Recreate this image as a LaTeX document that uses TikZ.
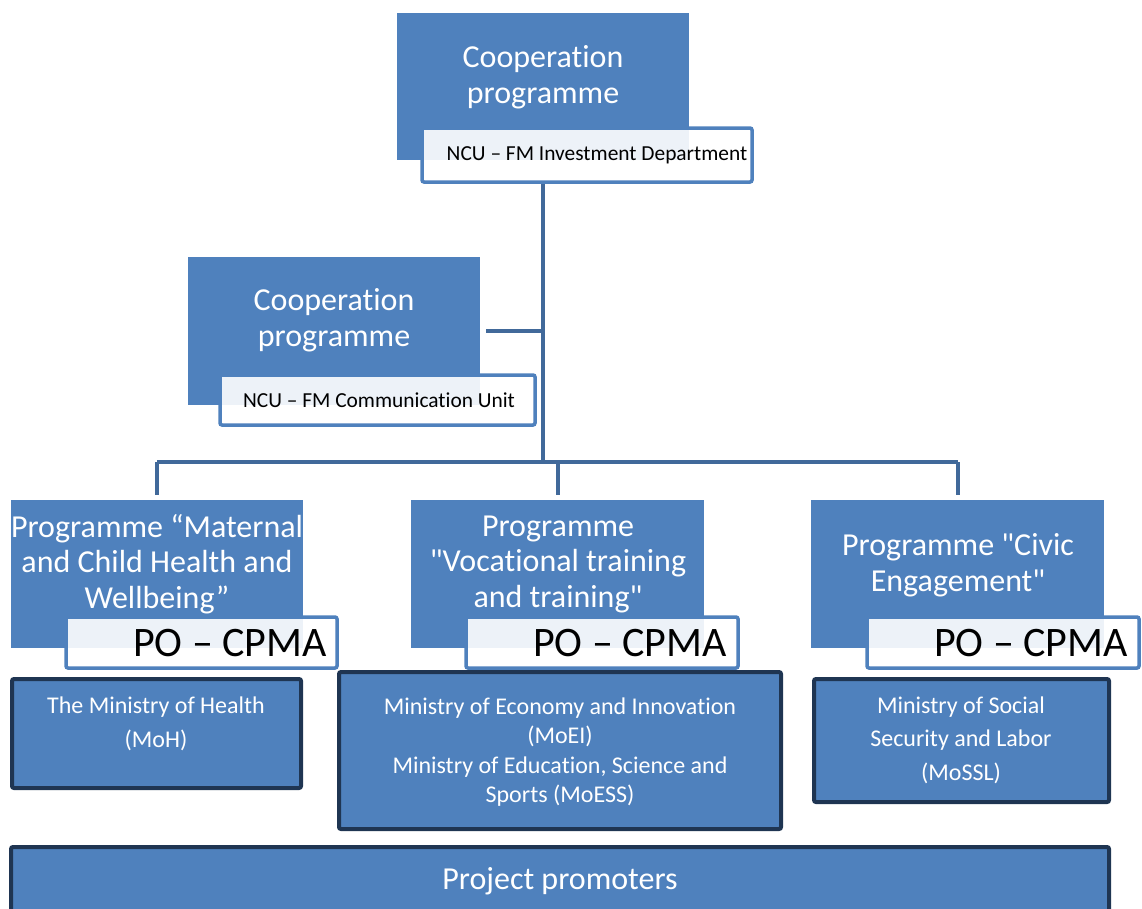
\documentclass[tikz,border=0pt]{standalone}
\usepackage{fontspec}
\setmainfont{Carlito}[Ligatures={TeXOff,NoCommon}]
\usetikzlibrary{fit}
\definecolor{boxblue}{HTML}{4F81BD}
\definecolor{connblue}{HTML}{41699A}
\definecolor{darkframe}{HTML}{1F3552}
\newcommand{\dq}{\symbol{34}}
\tikzset{
  bluebox/.style={fill=boxblue, draw=none, inner sep=0pt},
  labelbox/.style={fill=white, fill opacity=0.9, draw=boxblue, draw opacity=1, line width=3.5pt, rounded corners=2pt, inner sep=0pt},
  minbox/.style={fill=boxblue, draw=darkframe, line width=4pt, rounded corners=2pt, inner sep=0pt},
  conn/.style={draw=connblue, line width=4pt},
  bigtext/.style={text=white, align=center, inner sep=0pt, font=\fontsize{32}{36}\selectfont},
  progtext/.style={text=white, align=center, inner sep=0pt, font=\fontsize{32}{35.5}\selectfont},
  ncutext/.style={text=black, inner sep=0pt, font=\fontsize{21.4}{25}\selectfont},
  potext/.style={text=black, inner sep=0pt, anchor=east, font=\fontsize{42}{46}\selectfont},
  mintext/.style={text=white, align=center, inner sep=0pt},
}
\begin{document}
\begin{tikzpicture}[x=1pt,y=-1pt]
\useasboundingbox (0,0) rectangle (1142,908);
\clip (0,0) rectangle (1142,908);

% connector coordinates
\coordinate (bus) at (543,462);

% blue boxes
\node[bluebox, fit={(397,13) (689,160)}] (top) {};
\node[bluebox, fit={(188,257) (480,405)}] (box2) {};
\node[bluebox, fit={(11,500) (303,648)}] (progL) {};
\node[bluebox, fit={(411,500) (704,648)}] (progM) {};
\node[bluebox, fit={(811,500) (1104,648)}] (progR) {};

% connectors
\draw[conn] (top.south |- 0,182) -- (bus);
\draw[conn] ([xshift=6pt]box2.east) -- (box2.east -| bus);
\draw[conn] (progL.north |- bus) -- (progR.north |- bus);
\draw[conn] (progL.north |- bus) -- ([yshift=5pt]progL.north);
\draw[conn] (progM.north |- bus) -- ([yshift=5pt]progM.north);
\draw[conn] (progR.north |- bus) -- ([yshift=5pt]progR.north);

% texts in blue boxes
\node[bigtext] (topT) at (543,77) {Cooperation\\programme};
\node[bigtext] (box2T) at (334,320) {Cooperation\\programme};
\node[progtext] (progLT) at (157,564) {Programme “Maternal\\and Child Health and\\Wellbeing”};
\node[progtext] (progMT) at (558,564) {Programme\\\dq Vocational training\\and training\dq};
\node[progtext] (progRT) at (958,565) {Programme \dq Civic\\Engagement\dq};

% label boxes
\node[labelbox, fit={(422,128) (752,182)}] (ncu1) {};
\node[ncutext] (ncu1T) at (597,155) {NCU – FM Investment Department};
\node[labelbox, fit={(220,375) (535,425)}] (ncu2) {};
\node[ncutext] (ncu2T) at (379,400) {NCU – FM Communication Unit};
\node[labelbox, fit={(66,617) (337,668)}] (poL) {};
\node[potext] (poLT) at (327,643) {PO – CPMA};
\node[labelbox, fit={(466,617) (738,668)}] (poM) {};
\node[potext] (poMT) at (727,643) {PO – CPMA};
\node[labelbox, fit={(867,617) (1139,668)}] (poR) {};
\node[potext] (poRT) at (1128,643) {PO – CPMA};

% ministry boxes
\node[minbox, fit={(12,679) (301,788)}] (minL) {};
\node[mintext, font=\fontsize{24}{34}\selectfont] (minLT) at (156,724) {The Ministry of Health\\(MoH)};
\node[minbox, fit={(339,672) (781,829)}] (minM) {};
\node[mintext, font=\fontsize{24}{29.5}\selectfont] (minMT) at (560,752) {Ministry of Economy and Innovation\\(MoEI)\\Ministry of Education, Science and\\Sports (MoESS)};
\node[minbox, fit={(814,679) (1109,802)}] (minR) {};
\node[mintext, font=\fontsize{24}{33.5}\selectfont] (minRT) at (961,740) {Ministry of Social\\Security and Labor\\(MoSSL)};

% project promoters
\node[minbox, fit={(11,847) (1109,930)}] (pp) {};
\node[bigtext] (ppT) at (560,881) {Project promoters};
\end{tikzpicture}
\end{document}
